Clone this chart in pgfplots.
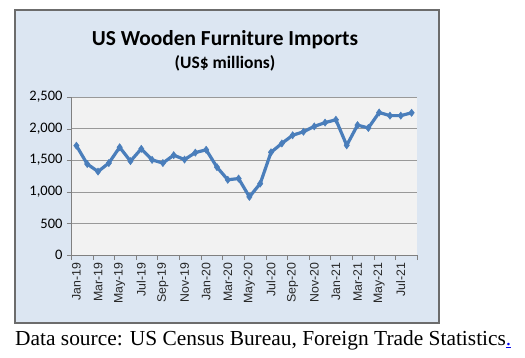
\documentclass[border=0pt]{standalone}
\usepackage{pgfplots}
\pgfplotsset{compat=1.18}
\usepackage{fontspec}
\setmainfont{Liberation Serif}
\newfontfamily\calib{Carlito}
\newfontfamily\xfont{Liberation Sans}
\definecolor{boxfill}{RGB}{220,230,242}
\definecolor{plotfill}{RGB}{242,242,242}
\definecolor{serblue}{RGB}{74,126,187}
\definecolor{linkblue}{RGB}{0,0,238}
\begin{document}
\begin{tikzpicture}[x=1pt,y=1pt]
\path[fill=white] (0,0) rectangle (525,357);
\draw[draw=gray!85!black, line width=1.5pt, fill=boxfill] (15,34) rectangle (439,347);
\node[font=\calib\bfseries\fontsize{21.4}{24}\selectfont] at (225,317) {US Wooden Furniture Imports};
\node[font=\calib\bfseries\fontsize{17.5}{20}\selectfont] at (225,294) {(US\$ millions)};
\begin{axis}[
  at={(71pt,102pt)}, anchor=south west,
  width=346pt, height=158pt, scale only axis,
  xmin=-0.5, xmax=31.5, ymin=0, ymax=2500,
  axis background/.style={fill=plotfill},
  axis line style={draw=gray},
  axis x line*=bottom, axis y line*=left,
  ytick={0,500,...,2500},
  ymajorgrids, grid style={draw=gray!80, line width=0.6pt},
  yticklabel style={font=\calib\fontsize{14.5}{16}\selectfont, xshift=-1pt},
  /pgf/number format/assume math mode=true,
  /pgf/number format/1000 sep={,},
  tick align=outside, major tick length=4pt, minor tick length=5pt,
  tick style={draw=gray},
  xtick={0,2,...,30},
  xticklabels={Jan-19,Mar-19,May-19,Jul-19,Sep-19,Nov-19,Jan-20,Mar-20,May-20,Jul-20,Sep-20,Nov-20,Jan-21,Mar-21,May-21,Jul-21},
  major x tick style={draw=none},
  minor xtick={-0.5,1.5,...,31.5},
  xticklabel style={font=\xfont\fontsize{12.3}{14}\selectfont, rotate=90, anchor=east, inner xsep=3.5pt, text=black!85},
  clip=false,
]
\addplot[color=serblue, line width=3.2pt, mark=diamond*, mark size=3.6pt, mark options={fill=serblue, draw=serblue, line width=0.5pt}] coordinates {
(0,1730) (1,1440) (2,1320) (3,1455) (4,1705) (5,1485) (6,1680) (7,1505)
(8,1455) (9,1580) (10,1510) (11,1620) (12,1665) (13,1390) (14,1190) (15,1210)
(16,920) (17,1130) (18,1625) (19,1765) (20,1895) (21,1950) (22,2035) (23,2095)
(24,2140) (25,1735) (26,2055) (27,2010) (28,2255) (29,2205) (30,2205) (31,2250)
};
\end{axis}
\node[anchor=base west, inner sep=0pt, font=\fontsize{21.4}{24}\selectfont] at (15,12) {Data source: US Census Bureau, Foreign Trade Statistics\textcolor{linkblue}{\underline{.}}};
\end{tikzpicture}
\end{document}
